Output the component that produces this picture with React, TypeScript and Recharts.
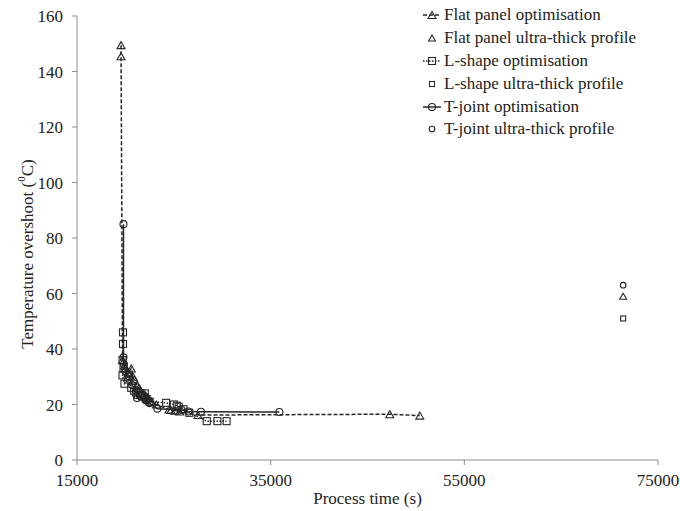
import React from 'react';
import { ScatterChart, Scatter, XAxis, YAxis } from 'recharts';

// Process time (s), temperature overshoot (°C)
const flatPanelOpt: [number, number][] = [
  [19550, 149.5], [19550, 145.5], [19700, 36], [19900, 34], [20000, 33], [20300, 31.5], [20600, 33],
  [20800, 30], [20900, 29], [21200, 27], [21400, 26], [21500, 25.5], [21900, 24], [22100, 23.2],
  [22300, 22.5], [22700, 21], [23200, 20], [24500, 18.2], [24700, 18], [25100, 17.8],
  [25600, 17.5], [27500, 16.2], [47300, 16.5], [50400, 16],
];
const flatPanelUltra: [number, number][] = [[71400, 59]];

const lShapeOpt: [number, number][] = [
  [19750, 46], [19750, 41.8], [19700, 36], [19800, 33], [19700, 30.5], [19900, 27.5],
  [20300, 29], [20600, 26], [20900, 25], [21100, 24.3], [21300, 23.5], [21700, 23], [22000, 24],
  [22200, 22], [22500, 21], [24200, 20.6], [25000, 20], [25300, 19.6], [25500, 19.2], [26000, 18.3],
  [26600, 17], [28400, 14], [29500, 14], [30450, 14],
];
const lShapeUltra: [number, number][] = [[71400, 51]];

const tJointOpt: [number, number][] = [
  [19800, 85], [19800, 37], [19850, 34.5], [20000, 32], [20200, 31], [20400, 30], [20700, 27],
  [21100, 25], [21200, 22.3], [21600, 23], [21900, 22.4], [22100, 21.5], [22500, 20.5], [23300, 18.5],
  [25800, 18], [26500, 17.5], [27800, 17.4], [35900, 17.3],
];
const tJointUltra: [number, number][] = [[71400, 63]];

const xTicks = [15000, 35000, 55000, 75000];
const yTicks = [0, 20, 40, 60, 80, 100, 120, 140, 160];

const toPts = (a: [number, number][]) => a.map(([x, y]) => ({ x, y }));

const INK = '#262626';
const FONT = "'Liberation Serif', 'DejaVu Serif', serif";
const FS = 17;

const tri = (w: number, h: number) => (p: any) => {
  const { cx, cy } = p;
  if (cx == null || cy == null) return <g />;
  return (
    <polygon
      points={`${cx},${cy - h / 2} ${cx - w / 2},${cy + h / 2} ${cx + w / 2},${cy + h / 2}`}
      fill="none" stroke={INK} strokeWidth={1.1}
    />
  );
};
const sq = (s: number) => (p: any) => {
  const { cx, cy } = p;
  if (cx == null || cy == null) return <g />;
  return <rect x={cx - s / 2} y={cy - s / 2} width={s} height={s} fill="none" stroke={INK} strokeWidth={1.1} />;
};
const circ = (r: number) => (p: any) => {
  const { cx, cy } = p;
  if (cx == null || cy == null) return <g />;
  return <circle cx={cx} cy={cy} r={r} fill="none" stroke={INK} strokeWidth={1.1} />;
};

const legendItems = [
  { name: 'Flat panel optimisation', dash: '4 2', marker: 'tri', line: true },
  { name: 'Flat panel ultra-thick profile', marker: 'triS', line: false },
  { name: 'L-shape optimisation', dash: '1.5 1.5', marker: 'sq', line: true },
  { name: 'L-shape ultra-thick profile', marker: 'sqS', line: false },
  { name: 'T-joint optimisation', dash: undefined, marker: 'circ', line: true },
  { name: 'T-joint ultra-thick profile', marker: 'circS', line: false },
];

const LegendIcon = ({ marker, line, dash }: any) => {
  const cx = 10, cy = 11;
  let m: any = null;
  if (marker === 'tri') m = tri(8, 7)({ cx, cy });
  if (marker === 'triS') m = tri(7, 6)({ cx, cy });
  if (marker === 'sq') m = sq(7)({ cx, cy });
  if (marker === 'sqS') m = sq(5)({ cx, cy });
  if (marker === 'circ') m = circ(3.5)({ cx, cy });
  if (marker === 'circS') m = circ(2.8)({ cx, cy });
  return (
    <svg width={20} height={22} style={{ display: 'block' }}>
      {line && <line x1={1} x2={19} y1={cy} y2={cy} stroke={INK} strokeWidth={1.5} strokeDasharray={dash} />}
      {m}
    </svg>
  );
};

const CustomLegend = () => (
  <div style={{ position: 'absolute', left: 422, top: 4, fontFamily: FONT, fontSize: FS, color: '#222' }}>
    {legendItems.map((it) => (
      <div key={it.name} style={{ display: 'flex', alignItems: 'center', height: 22.8, whiteSpace: 'nowrap' }}>
        <LegendIcon {...it} />
        <span style={{ marginLeft: 2 }}>{it.name}</span>
      </div>
    ))}
  </div>
);

const YLabel = () => (
  <text
    x={0} y={0}
    transform="translate(27,254) rotate(-90)"
    textAnchor="middle"
    dominantBaseline="central"
    fontFamily={FONT} fontSize={FS} fill="#222"
  >
    Temperature overshoot (<tspan baselineShift="super" fontSize={11}>0</tspan>C)
  </text>
);

export default function App() {
  return (
    <div style={{ position: 'absolute', left: 0, top: 0, width: 680, height: 511, background: '#fff' }}>
      <ScatterChart width={680} height={511} margin={{ top: 16, right: 22, bottom: 0, left: 0 }}>
        <XAxis
          type="number" dataKey="x" domain={[15000, 75000]} ticks={xTicks} interval={0}
          height={51} tickSize={5} tickMargin={9}
          axisLine={{ stroke: '#8c8c8c' }} tickLine={{ stroke: '#8c8c8c' }}
          tick={{ fontFamily: FONT, fontSize: FS, fill: '#222' }}
          label={{ value: 'Process time (s)', position: 'insideBottom', offset: 7, fontFamily: FONT, fontSize: FS, fill: '#222' }}
        />
        <YAxis
          type="number" dataKey="y" domain={[0, 160]} ticks={yTicks} interval={0}
          width={77} tickSize={5} tickMargin={9}
          axisLine={{ stroke: '#8c8c8c' }} tickLine={{ stroke: '#8c8c8c' }}
          tick={{ fontFamily: FONT, fontSize: FS, fill: '#222' }}
          label={<YLabel />}
        />
        <Scatter
          name="Flat panel optimisation" data={toPts(flatPanelOpt)} isAnimationActive={false}
          line={{ stroke: INK, strokeWidth: 1.5, strokeDasharray: '4 2' }} lineType="joint"
          shape={tri(8, 7)}
        />
        <Scatter
          name="L-shape optimisation" data={toPts(lShapeOpt)} isAnimationActive={false}
          line={{ stroke: INK, strokeWidth: 1.5, strokeDasharray: '1.5 1.5' }} lineType="joint"
          shape={sq(7)}
        />
        <Scatter
          name="T-joint optimisation" data={toPts(tJointOpt)} isAnimationActive={false}
          line={{ stroke: INK, strokeWidth: 1.5 }} lineType="joint"
          shape={circ(3.5)}
        />
        <Scatter name="Flat panel ultra-thick profile" data={toPts(flatPanelUltra)} isAnimationActive={false} shape={tri(7, 6)} />
        <Scatter name="L-shape ultra-thick profile" data={toPts(lShapeUltra)} isAnimationActive={false} shape={sq(5)} />
        <Scatter name="T-joint ultra-thick profile" data={toPts(tJointUltra)} isAnimationActive={false} shape={circ(2.8)} />
      </ScatterChart>
      <CustomLegend />
    </div>
  );
}
